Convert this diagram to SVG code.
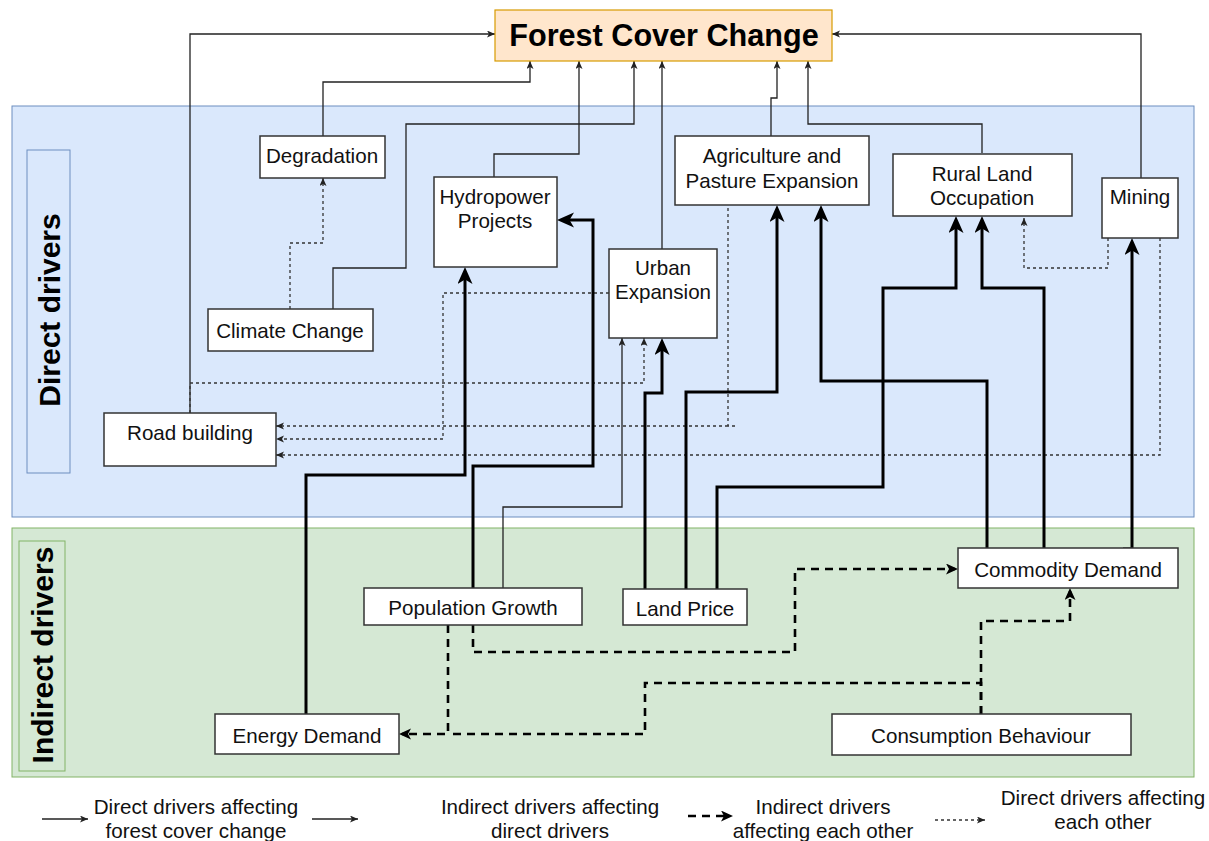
<svg xmlns="http://www.w3.org/2000/svg" width="1209" height="841" viewBox="0 0 1209 841">
<style>
.node{fill:#fff;stroke:#333;stroke-width:1.5}
.lbl{font-family:"Liberation Sans",Arial,sans-serif;font-size:20.6px;fill:#111;text-anchor:middle}
.leg{font-family:"Liberation Sans",Arial,sans-serif;font-size:20.6px;fill:#111;text-anchor:middle}
.thin{fill:none;stroke:#222;stroke-width:1.3}
.thick{fill:none;stroke:#000;stroke-width:3}
.dot{fill:none;stroke:#333;stroke-width:1.3;stroke-dasharray:3 3}
.dash{fill:none;stroke:#000;stroke-width:2.6;stroke-dasharray:8 6}
.side{font-family:"Liberation Sans",Arial,sans-serif;font-size:30px;font-weight:bold;fill:#000;text-anchor:middle}
</style>
<defs>
<marker id="mThin" markerUnits="userSpaceOnUse" markerWidth="10" markerHeight="8" refX="8" refY="3.5" orient="auto"><path d="M0,0 L8,3.5 L0,7 L2,3.5z" fill="#222"/></marker>
<marker id="mThick" markerUnits="userSpaceOnUse" markerWidth="18" markerHeight="16" refX="12" refY="7.5" orient="auto"><path d="M0,0 L17,7.5 L0,15 L4.5,7.5z" fill="#000"/></marker>
<marker id="mDash" markerUnits="userSpaceOnUse" markerWidth="14" markerHeight="12" refX="9" refY="5.5" orient="auto"><path d="M0,0 L12,5.5 L0,11 L3,5.5z" fill="#000"/></marker>
</defs>

<g id="panels">
<rect x="12" y="106" width="1182" height="411" fill="#dae8fc" stroke="#6c8ebf" stroke-width="1"/>
<rect x="12" y="528" width="1182" height="249" fill="#d5e8d4" stroke="#82b366" stroke-width="1"/>
<rect x="27" y="150" width="43" height="323" fill="#dae8fc" stroke="#6c8ebf" stroke-width="1"/>
<rect x="19" y="541" width="46" height="230" fill="#d5e8d4" stroke="#82b366" stroke-width="1"/>
<text class="side" transform="translate(60,310) rotate(-90)">Direct drivers</text>
<text class="side" transform="translate(53,655) rotate(-90)">Indirect drivers</text>
</g>

<g id="connectors">
<path class="thin" d="M190,413 V34 H495" marker-end="url(#mThin)"/>
<path class="thin" d="M323,136 V82 H530 V61" marker-end="url(#mThin)"/>
<path class="thin" d="M333,309 V268 H406 V124 H634 V61" marker-end="url(#mThin)"/>
<path class="thin" d="M494,177 V154 H579 V61" marker-end="url(#mThin)"/>
<path class="thin" d="M662,249 V61" marker-end="url(#mThin)"/>
<path class="thin" d="M771,136 V98 H777 V61" marker-end="url(#mThin)"/>
<path class="thin" d="M982,153 V124 H808 V61" marker-end="url(#mThin)"/>
<path class="thin" d="M1141,178 V34 H832" marker-end="url(#mThin)"/>
<path class="thin" d="M503,588 V507 H622 V338" marker-end="url(#mThin)"/>

<path class="dot" d="M290,309 V243 H323 V178" marker-end="url(#mThin)"/>
<path class="dot" d="M609,293 H443 V439 H276" marker-end="url(#mThin)"/>
<path class="dot" d="M190,413 V383 H644 V338" marker-end="url(#mThin)"/>
<path class="dot" d="M735,426 H728 V205 M728,426 H276" marker-end="url(#mThin)"/>
<path class="dot" d="M1160,238 V455 H276" marker-end="url(#mThin)"/>
<path class="dot" d="M1108,238 V268 H1024 V218" marker-end="url(#mThin)"/>

<path class="thick" d="M306,714 V475 H465 V272" marker-end="url(#mThick)"/>
<path class="thick" d="M473,588 V466 H593 V220 H562" marker-end="url(#mThick)"/>
<path class="thick" d="M645,589 V393 H662 V343" marker-end="url(#mThick)"/>
<path class="thick" d="M686,589 V392 H777 V210" marker-end="url(#mThick)"/>
<path class="thick" d="M717,589 V487 H883 V288 H956 V221" marker-end="url(#mThick)"/>
<path class="thick" d="M987,548 V381 H821 V210" marker-end="url(#mThick)"/>
<path class="thick" d="M1044,548 V288 H982 V221" marker-end="url(#mThick)"/>
<path class="thick" d="M1123,549 H1132 V243" marker-end="url(#mThick)"/>

<path class="dash" d="M473,625 V652 H795 V569 H955" marker-end="url(#mDash)"/>
<path class="dash" d="M448,625 V734 H402" marker-end="url(#mDash)"/>
<path class="dash" d="M981,714 V683 H645 V734 H448"/>
<path class="dash" d="M981,714 V621 H1070 V591" marker-end="url(#mDash)"/>
</g>

<g id="forest-cover-change">
<rect x="495" y="10" width="337" height="51" fill="#ffe6cc" stroke="#d79b00" stroke-width="1.2"/>
<text x="664" y="46" font-family="Liberation Sans, Arial, sans-serif" font-size="30.6" font-weight="bold" text-anchor="middle" fill="#000">Forest Cover Change</text>
</g>
<g id="degradation"><rect class="node" x="260" y="136" width="125" height="42"/><text class="lbl" x="322" y="163">Degradation</text></g>
<g id="hydropower"><rect class="node" x="434" y="177" width="123" height="90"/><text class="lbl" x="495" y="204">Hydropower</text><text class="lbl" x="495" y="228">Projects</text></g>
<g id="climate-change"><rect class="node" x="208" y="309" width="165" height="42"/><text class="lbl" x="290" y="338">Climate Change</text></g>
<g id="road-building"><rect class="node" x="104" y="413" width="172" height="53"/><text class="lbl" x="190" y="440">Road building</text></g>
<g id="urban-expansion"><rect class="node" x="609" y="249" width="108" height="89"/><text class="lbl" x="663" y="275">Urban</text><text class="lbl" x="663" y="299">Expansion</text></g>
<g id="agriculture"><rect class="node" x="675" y="136" width="194" height="69"/><text class="lbl" x="772" y="163">Agriculture and</text><text class="lbl" x="772" y="188">Pasture Expansion</text></g>
<g id="rural-land"><rect class="node" x="893" y="154" width="179" height="62"/><text class="lbl" x="982" y="181">Rural Land</text><text class="lbl" x="982" y="205">Occupation</text></g>
<g id="mining"><rect class="node" x="1102" y="178" width="76" height="60"/><text class="lbl" x="1140" y="204">Mining</text></g>
<g id="population-growth"><rect class="node" x="364" y="588" width="218" height="37"/><text class="lbl" x="473" y="615">Population Growth</text></g>
<g id="land-price"><rect class="node" x="623" y="589" width="124" height="36"/><text class="lbl" x="685" y="616">Land Price</text></g>
<g id="commodity-demand"><rect class="node" x="958" y="548" width="220" height="40"/><text class="lbl" x="1068" y="577">Commodity Demand</text></g>
<g id="energy-demand"><rect class="node" x="215" y="714" width="184" height="40"/><text class="lbl" x="307" y="743">Energy Demand</text></g>
<g id="consumption-behaviour"><rect class="node" x="832" y="714" width="299" height="41"/><text class="lbl" x="981" y="743">Consumption Behaviour</text></g>

<g id="legend">
<path class="thin" d="M42,819 H88" marker-end="url(#mThin)"/>
<text class="leg" x="196" y="814">Direct drivers affecting</text>
<text class="leg" x="196" y="838">forest cover change</text>
<path class="thin" d="M312,819 H358" marker-end="url(#mThin)"/>
<text class="leg" x="550" y="814">Indirect drivers affecting</text>
<text class="leg" x="550" y="838">direct drivers</text>
<path class="dash" d="M688,816 H730" marker-end="url(#mDash)"/>
<text class="leg" x="823" y="814">Indirect drivers</text>
<text class="leg" x="823" y="838">affecting each other</text>
<path class="dot" d="M935,820 H985" marker-end="url(#mThin)"/>
<text class="leg" x="1103" y="805">Direct drivers affecting</text>
<text class="leg" x="1103" y="829">each other</text>
</g>
</svg>
